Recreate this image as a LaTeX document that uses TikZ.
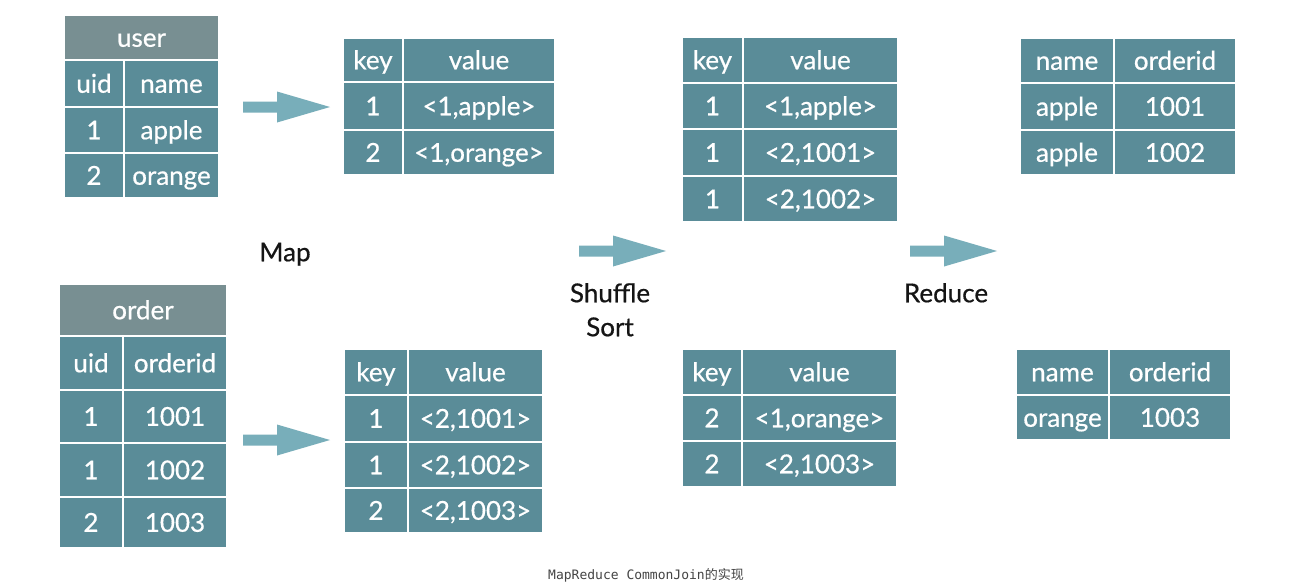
\documentclass[tikz,border=0pt]{standalone}
\usepackage{fontspec}
\setmainfont{Lato}
\newfontfamily\gillf{Lato}[FakeBold=0.6]
\newfontfamily\capmono{DejaVu Sans Mono}
\newfontfamily\cjk{Noto Sans CJK SC}
\definecolor{cellc}{HTML}{5A8C98}
\definecolor{headc}{HTML}{788F92}
\definecolor{arrowc}{HTML}{78AEBA}
\definecolor{labc}{HTML}{151515}
\definecolor{capc}{HTML}{444444}
\tikzset{
  cell/.style={draw=white, line width=1.8pt, fill=cellc, text=white, inner sep=0pt,
    font=\gillf\fontsize{26}{30}\selectfont, text height=18.5pt, text depth=0pt},
  headcell/.style={cell, fill=headc},
  lab/.style={text=labc, font=\gillf\fontsize{26}{30}\selectfont, inner sep=0pt,
    text height=18.5pt, text depth=0pt},
  blockarrow/.style={fill=arrowc}
}
\newcommand\cb[7][cell]{%
  \node[#1, minimum width={(#5-#3)*1pt}, minimum height={(#6-#4)*1pt}]
    (#2) at ({(#3+#5)/2},{(#4+#6)/2}) {#7};}
\newcommand\blockarr[3]{% x-start, x-tip, y-center
  \fill[blockarrow] (#1,#3-5.5) -- ({#1+34},#3-5.5) -- ({#1+34},#3-15.5) -- (#2,#3)
    -- ({#1+34},#3+15.5) -- ({#1+34},#3+5.5) -- (#1,#3+5.5) -- cycle;}
\begin{document}
\begin{tikzpicture}[x=1pt,y=-1pt]
\useasboundingbox[fill=white] (0,0) rectangle (1292,582);
% user table
\cb[headcell]{uh}{64}{15}{219}{60}{user}
\cb{u11}{64}{60}{124}{107}{uid}
\cb{u12}{124}{60}{219}{107}{name}
\cb{u21}{64}{107}{124}{153}{1}
\cb{u22}{124}{107}{219}{153}{apple}
\cb{u31}{64}{153}{124}{198}{2}
\cb{u32}{124}{153}{219}{198}{orange}
% order table
\cb[headcell]{oh}{59}{284}{227}{336}{order}
\cb{o11}{59}{336}{123}{390}{uid}
\cb{o12}{123}{336}{227}{390}{orderid}
\cb{o21}{59}{390}{123}{443}{1}
\cb{o22}{123}{390}{227}{443}{1001}
\cb{o31}{59}{443}{123}{497}{1}
\cb{o32}{123}{443}{227}{497}{1002}
\cb{o41}{59}{497}{123}{548}{2}
\cb{o42}{123}{497}{227}{548}{1003}
% map output 1
\cb{ma11}{343}{38}{403}{82}{key}
\cb{ma12}{403}{38}{555}{82}{value}
\cb{ma21}{343}{82}{403}{130}{1}
\cb{ma22}{403}{82}{555}{130}{<1,apple>}
\cb{ma31}{343}{130}{403}{175}{2}
\cb{ma32}{403}{130}{555}{175}{<1,orange>}
% map output 2
\cb{mb11}{344}{349}{408}{395}{key}
\cb{mb12}{408}{349}{543}{395}{value}
\cb{mb21}{344}{395}{408}{442}{1}
\cb{mb22}{408}{395}{543}{442}{<2,1001>}
\cb{mb31}{344}{442}{408}{488}{1}
\cb{mb32}{408}{442}{543}{488}{<2,1002>}
\cb{mb41}{344}{488}{408}{533}{2}
\cb{mb42}{408}{488}{543}{533}{<2,1003>}
% shuffle 1
\cb{sa11}{682}{37}{743}{83}{key}
\cb{sa12}{743}{37}{898}{83}{value}
\cb{sa21}{682}{83}{743}{129}{1}
\cb{sa22}{743}{83}{898}{129}{<1,apple>}
\cb{sa31}{682}{129}{743}{176}{1}
\cb{sa32}{743}{129}{898}{176}{<2,1001>}
\cb{sa41}{682}{176}{743}{222}{1}
\cb{sa42}{743}{176}{898}{222}{<2,1002>}
% shuffle 2
\cb{sb11}{682}{349}{742}{395}{key}
\cb{sb12}{742}{349}{897}{395}{value}
\cb{sb21}{682}{395}{742}{441}{2}
\cb{sb22}{742}{395}{897}{441}{<1,orange>}
\cb{sb31}{682}{441}{742}{487}{2}
\cb{sb32}{742}{441}{897}{487}{<2,1003>}
% reduce 1
\cb{ra11}{1020}{38}{1114}{83}{name}
\cb{ra12}{1114}{38}{1236}{83}{orderid}
\cb{ra21}{1020}{83}{1114}{130}{apple}
\cb{ra22}{1114}{83}{1236}{130}{1001}
\cb{ra31}{1020}{130}{1114}{175}{apple}
\cb{ra32}{1114}{130}{1236}{175}{1002}
% reduce 2
\cb{rb11}{1016}{349}{1109}{395}{name}
\cb{rb12}{1109}{349}{1231}{395}{orderid}
\cb{rb21}{1016}{395}{1109}{440}{orange}
\cb{rb22}{1109}{395}{1231}{440}{1003}
% arrows
\blockarr{243}{330}{107}
\blockarr{243}{330}{440}
\blockarr{579}{666}{251}
\blockarr{910}{997}{251}
% labels
\node[lab] (map) at (285,252) {Map};
\node[lab] (shuffle) at (610,293) {Shuffle};
\node[lab] (sort) at (610,327) {Sort};
\node[lab] (reduce) at (946,293) {Reduce};
\node[text=capc, inner sep=0pt, font=\capmono\fontsize{13}{15}\selectfont] (cap) at (646,575)
  {MapReduce CommonJoin{\cjk 的实现}};
\end{tikzpicture}
\end{document}
